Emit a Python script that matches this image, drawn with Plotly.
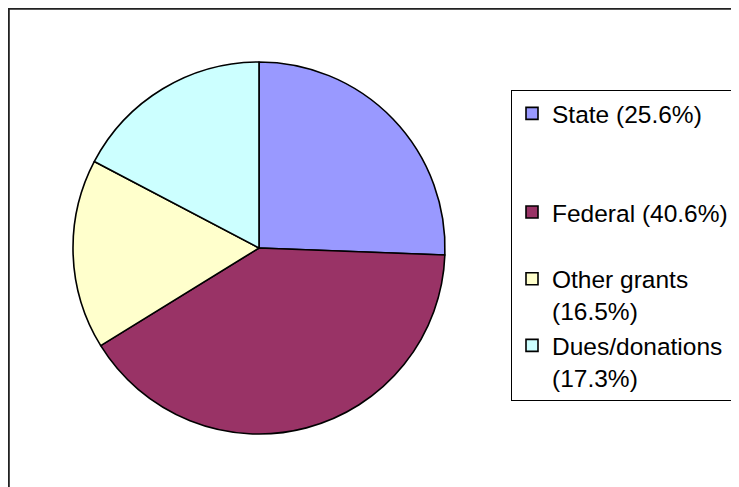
import plotly.graph_objects as go

categories = ["State", "Federal", "Other grants", "Dues/donations"]
shares = [25.6, 40.6, 16.5, 17.3]
colors = ["#9999FF", "#993366", "#FFFFCC", "#CCFFFF"]
# legend text wraps onto a second line for the long names; extra blank lines pad the spacing
wrap = [False, False, True, True]
pad_lines = [2, 1, 0, 0]

legend_labels = []
for c, s, w, p in zip(categories, shares, wrap, pad_lines):
    txt = f"{c}<br>({s}%)" if w else f"{c} ({s}%)"
    txt += "<br> " * p
    legend_labels.append(txt)

# page offset: the HTML body has an 8px margin, so the figure is drawn 8px in
W, H = 731, 479
cx, cy, r = 251, 240, 186

fig = go.Figure(go.Pie(
    labels=legend_labels,
    values=shares,
    sort=False,
    direction="clockwise",
    rotation=0,
    marker=dict(colors=colors, line=dict(color="black", width=1.6)),
    textinfo="none",
    hovertext=[f"{c} ({s}%)" for c, s in zip(categories, shares)],
    hoverinfo="text",
    domain=dict(x=[(cx - r) / W, (cx + r) / W], y=[(H - cy - r) / H, (H - cy + r) / H]),
))

fig.update_layout(
    width=W, height=H,
    margin=dict(l=0, r=0, t=0, b=0),
    paper_bgcolor="white",
    font=dict(family="Liberation Sans, Arial, sans-serif", size=24.5, color="black"),
    showlegend=True,
    legend=dict(
        x=503 / W, y=1 - 82 / H, xanchor="left", yanchor="top",
        bordercolor="black", borderwidth=1, bgcolor="white",
        font=dict(size=24.5), valign="top", traceorder="normal",
    ),
    shapes=[dict(type="rect", xref="paper", yref="paper",
                 x0=0.8 / W, x1=1.5, y0=-0.5, y1=1 - 0.8 / H,
                 line=dict(color="#222222", width=2), layer="below")],
)

fig.write_html("out.html")
